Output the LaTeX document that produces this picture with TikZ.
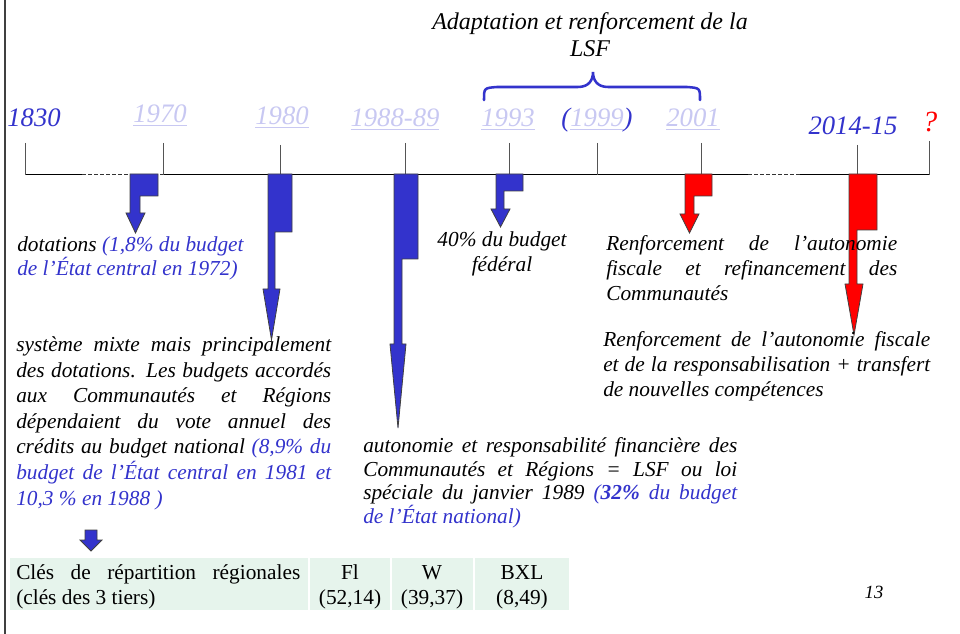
\documentclass[tikz,border=0pt]{standalone}
\usepackage{fontspec}
\setmainfont{Liberation Serif}
\definecolor{dblue}{RGB}{51,51,204}
\definecolor{lav}{RGB}{200,200,242}
\definecolor{tgreen}{RGB}{230,244,236}
\definecolor{tickgray}{RGB}{85,85,85}
\definecolor{ared}{RGB}{255,0,0}
\newcommand\jline[2]{\makebox[#1][s]{#2}}
\newcommand\bentarrow[9]{%
  \draw[#9] (#1,174) -- (#2,174) -- (#2,#3) -- (#4,#3) -- (#4,#5) -- (#7,#5)
    -- ({(#6+#7)/2},#8) -- (#6,#5) -- (#1,#5) -- cycle;}
\begin{document}
\begin{tikzpicture}[x=0.75pt,y=-0.75pt,
  year/.style={font=\itshape\fontsize{20}{24}\selectfont, inner sep=0pt, anchor=base},
  lavyear/.style={year, text=lav},
  body/.style={font=\itshape\fontsize{16}{19.2}\selectfont, inner sep=0pt, align=left, anchor=base west},
  tabtext/.style={font=\fontsize{16}{18.75}\selectfont, inner sep=0pt, anchor=base},
  tick/.style={draw=tickgray, line width=0.75pt},
  tline/.style={draw=black, line width=0.75pt},
  tdash/.style={draw=black!80, line width=0.75pt, dash pattern=on 3pt off 1.5pt},
  bluearrow/.style={fill=dblue, draw=black!75, line width=0.6pt},
  redarrow/.style={fill=ared, draw=black!75, line width=0.6pt},
  cell/.style={fill=tgreen}]
\useasboundingbox (0,0) rectangle (960,634);
\fill[white] (0,0) rectangle (960,634);
% left border
\draw[line width=1.5pt, black!75] (5,0) -- (5,634);

% title and brace
\node[font=\itshape\fontsize{18}{20.25}\selectfont, inner sep=0pt, align=center, anchor=base] (title) at (590,57)
  {Adaptation et renforcement de la\\LSF};
\draw[dblue, line width=1.9pt, line cap=round]
  (484,100) .. controls (484,88) .. (497,87) -- (578,87)
  .. controls (589,87) and (593,80) .. (593,72)
  .. controls (593,80) and (597,87) .. (608,87) -- (687,87)
  .. controls (700,88) .. (700,100);

% timeline
\coordinate (t1830) at (25,143);
\coordinate (t1970) at (163,143);
\coordinate (t1980) at (280,145);
\coordinate (t1988) at (405,143);
\coordinate (t1993) at (509,143);
\coordinate (t1999) at (597,143);
\coordinate (t2001) at (701,143);
\coordinate (t2014) at (857,145);
\coordinate (tq) at (929,141);
\coordinate (d1a) at (82,175);
\coordinate (d1b) at (163,175);
\coordinate (d2a) at (748,175);
\coordinate (d2b) at (800,175);
\coordinate (tend) at (929,175);
\draw[tline] (t1830 |- d1a) -- (d1a);
\draw[tdash] (d1a) -- (d1b);
\draw[tline] (d1b) -- (d2a);
\draw[tdash] (d2a) -- (d2b);
\draw[tline] (d2b) -- (tend);
\foreach \t in {t1830,t1970,t1980,t1988,t1993,t1999,t2001,t2014,tq}
  \draw[tick] (\t) -- (\t |- d1a);

% year labels
\node[year, text=dblue] (y1830) at (34,127) {1830};
\node[lavyear] (y1970) at (160,123) {\underline{1970}};
\node[lavyear] (y1980) at (282,125) {\underline{1980}};
\node[lavyear] (y1988) at (395,127) {\underline{1988-89}};
\node[lavyear] (y1993) at (508,127) {\underline{1993}};
\node[year, text=dblue] (y1999) at (597,127) {(\textcolor{lav}{\underline{1999}})};
\node[lavyear] (y2001) at (693,127) {\underline{2001}};
\node[year, text=dblue] (y2014) at (853,135) {2014-15};
\node[year, text=ared, font=\itshape\fontsize{22}{26}\selectfont] (yq) at (930,132) {?};

% bent arrows
\bentarrow{130}{158}{196}{140}{213}{126}{145}{233}{bluearrow}
\bentarrow{268}{292}{232}{275}{289}{263}{280}{340}{bluearrow}
\bentarrow{394}{418}{259}{402}{344}{390}{406}{428}{bluearrow}
\bentarrow{496}{523}{191}{504}{209}{491}{510}{227}{bluearrow}
\bentarrow{685}{712}{196}{694}{214}{680}{699}{233}{redarrow}
\bentarrow{849}{877}{230}{857}{284}{845}{863}{335}{redarrow}

% texts (anchor = baseline of the last line)
\node[body, font=\itshape\fontsize{16}{18}\selectfont] (dot) at (17,276)
  {dotations \textcolor{dblue}{(1,8\% du budget}\\
   \textcolor{dblue}{de l’État central en 1972)}};

\node[body] (mixte) at (16,505)
  {\jline{236.25pt}{système mixte mais principalement}\\
   \jline{236.25pt}{des dotations. Les budgets accordés}\\
   \jline{236.25pt}{aux Communautés et Régions}\\
   \jline{236.25pt}{dépendaient du vote annuel des}\\
   \jline{236.25pt}{crédits au budget national \textcolor{dblue}{(8,9\% du}}\\
   \jline{236.25pt}{\color{dblue}budget de l’État central en 1981 et}\\
   \textcolor{dblue}{10,3 \% en 1988 )}};

\node[body, font=\itshape\fontsize{16}{18.75}\selectfont, align=center, anchor=base] (quarante) at (502,272)
  {40\% du budget\\fédéral};

\node[body, font=\itshape\fontsize{16}{18.75}\selectfont] (renf1) at (606,301)
  {\jline{218.25pt}{Renforcement de l’autonomie}\\
   \jline{218.25pt}{fiscale et refinancement des}\\
   Communautés};

\node[body, font=\itshape\fontsize{16}{18.75}\selectfont] (renf2) at (603,397)
  {\jline{245.25pt}{Renforcement de l’autonomie fiscale}\\
   \jline{245.25pt}{et de la responsabilisation + transfert}\\
   de nouvelles compétences};

\node[body, font=\itshape\fontsize{16}{17.6}\selectfont] (auto) at (363,523)
  {\jline{280.5pt}{autonomie et responsabilité financière des}\\
   \jline{280.5pt}{Communautés et Régions = LSF ou loi}\\
   \jline{280.5pt}{spéciale du janvier 1989 \textcolor{dblue}{(\textbf{32\%} du budget}}\\
   \textcolor{dblue}{de l’État national)}};

% small arrow to table
\draw[bluearrow] (85,530) -- (97,530) -- (97,540) -- (102,540) -- (91,551)
  -- (80,540) -- (85,540) -- cycle;

% table
\fill[cell] (10,558) rectangle (308,610);
\fill[cell] (310,558) rectangle (390,610);
\fill[cell] (392,558) rectangle (473,610);
\fill[cell] (475,558) rectangle (569,610);
\node[tabtext, anchor=base west] (cles1) at (16,579) {\jline{213pt}{Clés de répartition régionales}};
\node[tabtext, anchor=base west] (cles2) at (16,604) {(clés des 3 tiers)};
\node[tabtext] (fl) at (350,579) {Fl};
\node[tabtext] (fln) at (350,604) {(52,14)};
\node[tabtext] (w) at (432,579) {W};
\node[tabtext] (wn) at (432,604) {(39,37)};
\node[tabtext] (bxl) at (522,579) {BXL};
\node[tabtext] (bxln) at (522,604) {(8,49)};

% page number
\node[font=\itshape\fontsize{14}{16}\selectfont, inner sep=0pt, anchor=base] (pg) at (874,598) {13};
\end{tikzpicture}
\end{document}
